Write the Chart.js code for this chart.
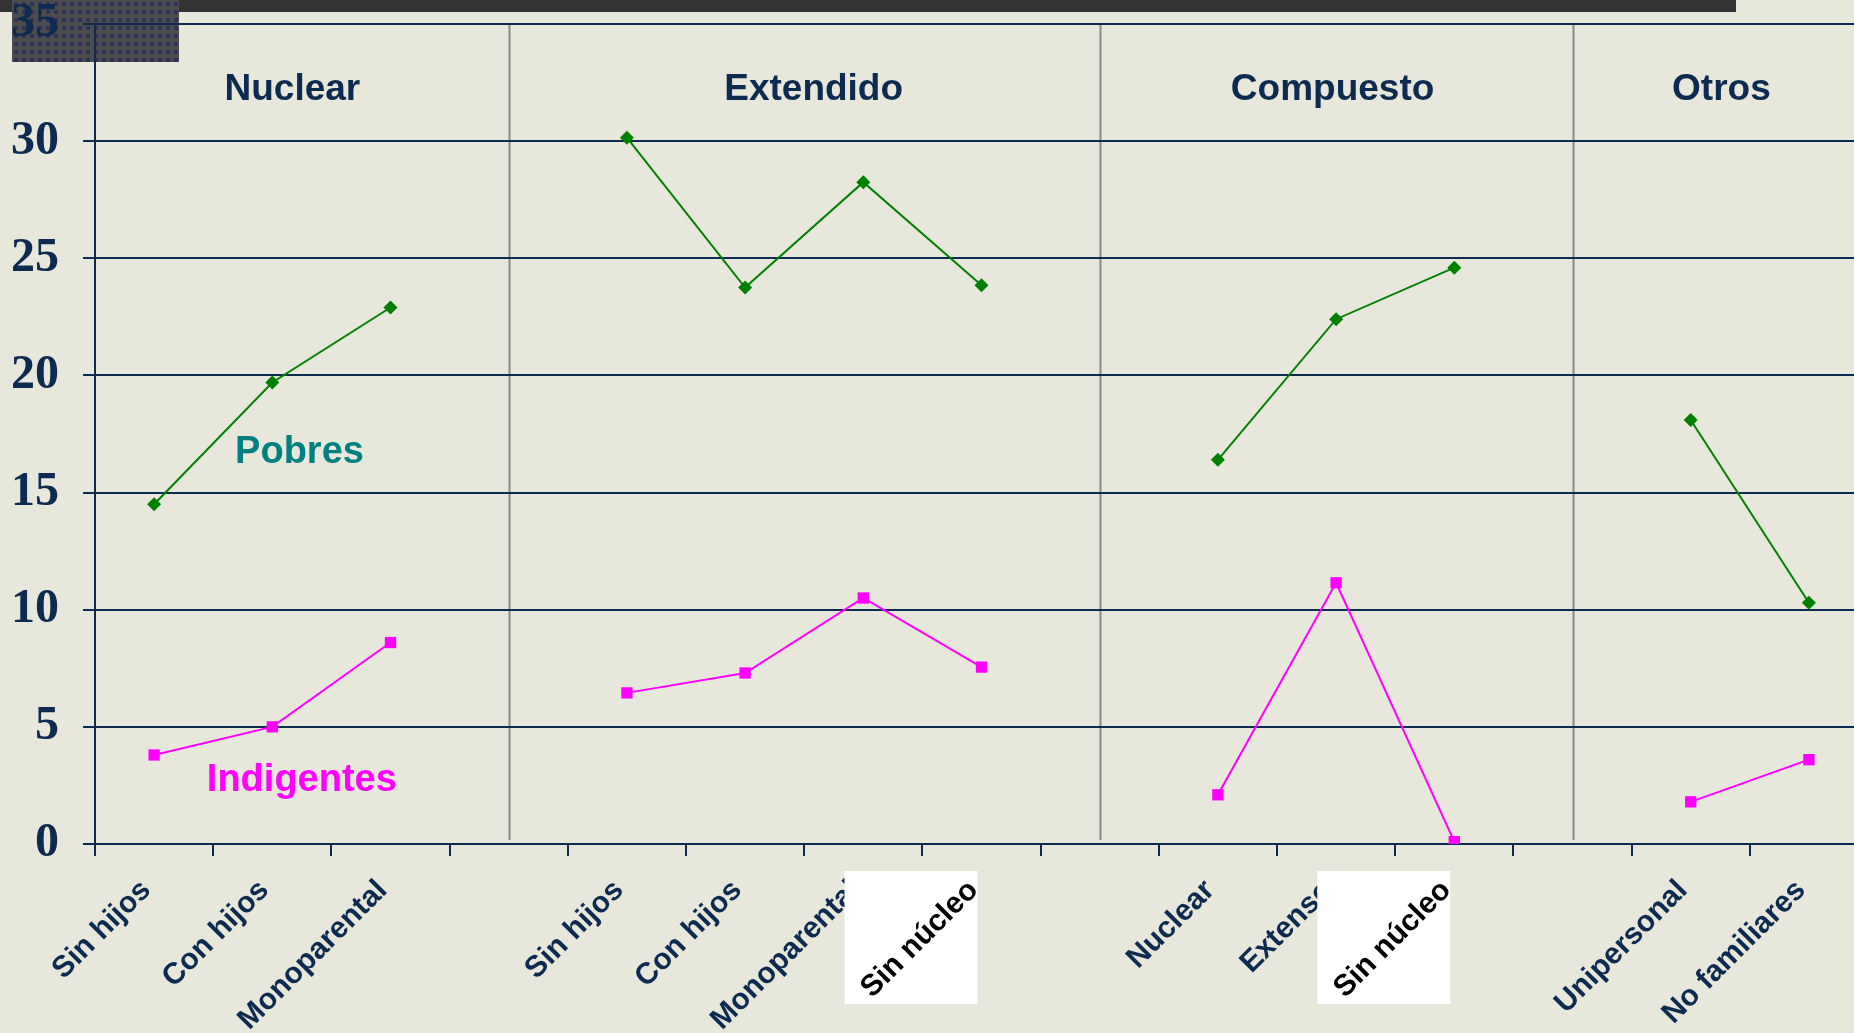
<!DOCTYPE html>
<html>
<head>
<meta charset="utf-8">
<script src="https://cdn.jsdelivr.net/npm/chart.js@4/dist/chart.umd.min.js"></script>
<style>
  html, body { margin: 0; padding: 0; overflow: hidden; }
  body { width: 1854px; height: 1033px; background: #e7e7db; position: relative; }
  .barra { position: absolute; left: 0; top: 0; width: 1736px; height: 12px; background: #333333; }
  .caja {
    position: absolute; left: 12px; top: 0; width: 167px; height: 62px;
    background-color: #4c4c4c;
    background-image: radial-gradient(#2c3060 35%, transparent 40%);
    background-size: 8px 8px;
  }
  #grafico { position: absolute; left: 0; top: 0; }
</style>
</head>
<body>
<div class="barra"></div>
<div class="caja"></div>
<canvas id="grafico" width="1880" height="1033"></canvas>
<script>
// categorias del eje x (los vacios separan los grupos)
const categorias = ['Sin hijos', 'Con hijos', 'Monoparental', '',
    'Sin hijos', 'Con hijos', 'Monoparental', 'Sin núcleo', '',
    'Nuclear', 'Extenso', 'Sin núcleo', '',
    'Unipersonal', 'No familiares'];
const pobres = [14.5, 19.7, 22.9, null, 30.15, 23.75, 28.25, 23.85, null, 16.4, 22.4, 24.6, null, 18.1, 10.3];
const indigentes = [3.8, 5.0, 8.6, null, 6.45, 7.3, 10.5, 7.55, null, 2.1, 11.15, 0.1, null, 1.8, 3.6];
const grupos = ['Nuclear', 'Extendido', 'Compuesto', 'Otros'];
const series = ['Pobres', 'Indigentes'];
const yMax = 35;
const yPaso = 5;

const azul = '#0d2a50';
const verde = '#008000';
const magenta = '#ff00ff';
const pegado = 'Sin núcleo'; // etiqueta pegada como imagen en el original (cuadro blanco)

// separadores, textos y cuadros blancos
const textosPlugin = {
    id: 'textos',
    beforeDraw(chart) {
        const ctx = chart.ctx;
        const x = chart.scales.x;
        const area = chart.chartArea;
        ctx.save();
        // separadores grises en las categorias vacias
        ctx.strokeStyle = '#8a8a8a';
        ctx.lineWidth = 2;
        categorias.forEach((c, i) => {
            if (c === '') {
                const px = Math.round(x.getPixelForValue(i)) + 0.5;
                ctx.beginPath();
                ctx.moveTo(px, area.top);
                ctx.lineTo(px, area.bottom - 4);
                ctx.stroke();
            }
        });
        ctx.restore();
    },
    afterDatasetsDraw(chart) {
        const ctx = chart.ctx;
        const x = chart.scales.x;
        const y = chart.scales.y;
        ctx.save();
        ctx.textAlign = 'center';
        ctx.textBaseline = 'middle';
        ctx.font = 'bold 37px "Liberation Sans", Arial, sans-serif';
        ctx.fillStyle = azul;
        const posGrupos = [1.17, 5.58, 9.97, 13.26];
        grupos.forEach((g, i) => {
            ctx.fillText(g, x.getPixelForValue(posGrupos[i]), y.getPixelForValue(32.2));
        });
        ctx.font = 'bold 38px "Liberation Sans", Arial, sans-serif';
        ctx.fillStyle = '#008080';
        ctx.fillText(series[0], x.getPixelForValue(1.23), y.getPixelForValue(16.7));
        ctx.fillStyle = magenta;
        ctx.fillText(series[1], x.getPixelForValue(1.25), y.getPixelForValue(2.7));
        ctx.restore();
    },
    afterDraw(chart) {
        // el cuadro blanco tapa las etiquetas vecinas, luego va el texto negro
        const ctx = chart.ctx;
        const x = chart.scales.x;
        const area = chart.chartArea;
        const items = x.getLabelItems();
        ctx.save();
        categorias.forEach((c, i) => {
            if (c !== pegado) return;
            const px = x.getPixelForValue(i);
            ctx.fillStyle = '#ffffff';
            ctx.fillRect(px - 137, area.bottom + 27, 133, 133);
            const it = items.find(t => t.label === pegado && Math.abs(t.options.translation[0] - px) < 60);
            if (!it) return;
            ctx.save();
            ctx.translate(it.options.translation[0], it.options.translation[1]);
            ctx.rotate(it.options.rotation);
            ctx.font = it.font.string;
            ctx.fillStyle = '#000000';
            ctx.textAlign = it.options.textAlign;
            ctx.textBaseline = it.options.textBaseline;
            ctx.fillText(pegado, 0, it.textOffset);
            ctx.restore();
        });
        ctx.restore();
    }
};

new Chart(document.getElementById('grafico').getContext('2d'), {
    type: 'line',
    data: {
        labels: categorias,
        datasets: [{
            label: series[0],
            data: pobres,
            borderColor: verde,
            backgroundColor: verde,
            borderWidth: 2,
            pointStyle: 'rectRot',
            pointRadius: 7,
            pointBorderWidth: 0,
            spanGaps: false,
            tension: 0
        }, {
            label: series[1],
            data: indigentes,
            borderColor: magenta,
            backgroundColor: magenta,
            borderWidth: 2,
            pointStyle: 'rect',
            pointRadius: 8,
            pointBorderWidth: 0,
            spanGaps: false,
            tension: 0
        }]
    },
    options: {
        responsive: false,
        animation: false,
        events: [],
        layout: { padding: { top: 24, right: 12, left: 0, bottom: 0 } },
        plugins: {
            legend: { display: false },
            tooltip: { enabled: false },
            title: { display: false }
        },
        scales: {
            x: {
                offset: true,
                afterFit: s => { s.height = 189; },
                grid: { drawOnChartArea: false, offset: true, color: azul, lineWidth: 2, tickLength: 12 },
                border: { color: azul, width: 2 },
                ticks: {
                    autoSkip: false,
                    maxRotation: 45,
                    minRotation: 45,
                    padding: 17,
                    labelOffset: -8,
                    color: ctx => ctx.tick && ctx.tick.label === pegado ? 'rgba(0,0,0,0)' : azul,
                    font: { family: '"Liberation Sans", Arial, sans-serif', size: 30, weight: 'bold' }
                }
            },
            y: {
                min: 0,
                max: yMax,
                afterFit: s => { s.width = 95; s.paddingTop = 0; s.paddingBottom = 0; },
                grid: { color: azul, lineWidth: 2, tickLength: 12 },
                border: { color: azul, width: 2 },
                ticks: {
                    stepSize: yPaso,
                    padding: 24,
                    color: azul,
                    font: { family: '"Liberation Serif", "Times New Roman", serif', size: 48, weight: 'bold', lineHeight: 1 }
                }
            }
        }
    },
    plugins: [textosPlugin]
});
</script>
</body>
</html>
